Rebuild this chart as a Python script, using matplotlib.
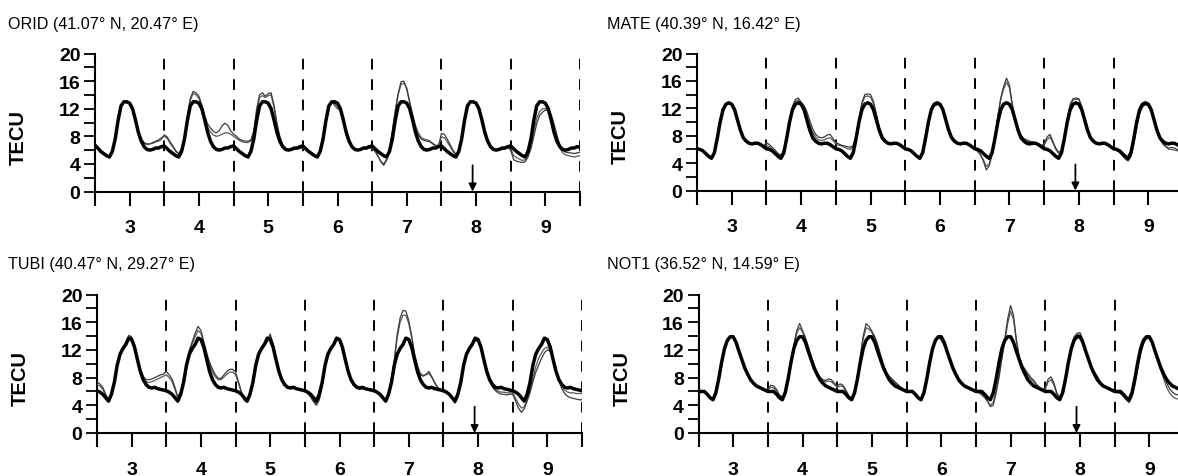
import numpy as np
import matplotlib
matplotlib.use("Agg")
import matplotlib.pyplot as plt
from matplotlib.ticker import MultipleLocator, FixedLocator

# ---------------- data (TECU, hourly from day 2.5 to 9.5) ----------------
hours_step = 1.0
n_pts = 169
days_x = [3, 4, 5, 6, 7, 8, 9]
day_bounds = [3.5, 4.5, 5.5, 6.5, 7.5, 8.5, 9.5]
event_day = 7.95
y_ticks_major = [0, 4, 8, 12, 16, 20]

station_titles = ["ORID (41.07° N, 20.47° E)", "MATE (40.39° N, 16.42° E)",
                  "TUBI (40.47° N, 29.27° E)", "NOT1 (36.52° N, 14.59° E)"]

orid_ref = [
    6.7, 6.3, 5.8, 5.5, 5.2, 5.0, 5.8, 7.6, 10.3, 12.4, 13.0, 13.0, 12.8, 12.0, 10.4, 8.6, 7.3, 6.5, 6.1, 6.0, 6.1, 6.3, 6.3, 6.5,
    6.6, 6.2, 5.8, 5.5, 5.2, 5.0, 5.8, 7.6, 10.3, 12.4, 13.0, 13.0, 12.8, 12.0, 10.4, 8.6, 7.3, 6.5, 6.1, 6.0, 6.1, 6.3, 6.3, 6.5,
    6.6, 6.2, 5.8, 5.5, 5.2, 5.0, 5.8, 7.6, 10.3, 12.4, 13.0, 13.0, 12.8, 12.0, 10.4, 8.6, 7.3, 6.5, 6.1, 6.0, 6.1, 6.3, 6.3, 6.5,
    6.6, 6.2, 5.8, 5.5, 5.2, 5.0, 5.8, 7.6, 10.3, 12.4, 13.0, 13.0, 12.8, 12.0, 10.4, 8.6, 7.3, 6.5, 6.1, 6.0, 6.1, 6.3, 6.3, 6.5,
    6.6, 6.2, 5.8, 5.5, 5.2, 5.0, 5.8, 7.6, 10.3, 12.4, 13.0, 13.0, 12.8, 12.0, 10.4, 8.6, 7.3, 6.5, 6.1, 6.0, 6.1, 6.3, 6.3, 6.5,
    6.6, 6.2, 5.8, 5.5, 5.2, 5.0, 5.8, 7.6, 10.3, 12.4, 13.0, 13.0, 12.8, 12.0, 10.4, 8.6, 7.3, 6.5, 6.1, 6.0, 6.1, 6.3, 6.3, 6.5,
    6.6, 6.2, 5.8, 5.5, 5.2, 5.0, 5.8, 7.6, 10.3, 12.4, 13.0, 13.0, 12.8, 12.0, 10.4, 8.6, 7.3, 6.5, 6.1, 6.0, 6.1, 6.3, 6.3, 6.5,
    6.4]
orid_obs1 = [
    6.7, 6.2, 5.8, 5.5, 5.2, 5.0, 5.8, 7.6, 10.3, 12.4, 13.0, 13.0, 12.8, 12.1, 10.6, 8.8, 7.7, 7.1, 6.9, 6.9, 7.0, 7.2, 7.3, 7.6,
    8.2, 7.9, 7.2, 6.6, 5.9, 5.5, 6.2, 8.0, 11.0, 13.5, 14.5, 14.3, 13.8, 12.6, 11.0, 9.8, 9.2, 8.7, 8.5, 8.8, 9.5, 9.9, 9.6, 8.8,
    8.3, 8.0, 7.6, 7.4, 7.3, 7.3, 7.5, 8.8, 12.0, 14.0, 14.3, 13.8, 14.2, 14.3, 12.5, 10.0, 8.0, 6.8, 6.3, 6.1, 6.1, 6.2, 6.3, 6.3,
    6.4, 6.2, 5.8, 5.5, 5.2, 5.0, 5.8, 7.6, 10.3, 12.4, 13.0, 12.5, 12.0, 11.8, 10.4, 8.6, 7.3, 6.5, 6.1, 6.0, 6.1, 6.2, 6.2, 6.3,
    6.3, 5.9, 5.2, 4.3, 3.8, 4.5, 6.0, 8.5, 11.5, 14.2, 15.9, 16.0, 14.8, 12.8, 10.8, 9.3, 8.2, 7.6, 7.4, 7.3, 7.2, 6.9, 6.6, 6.6,
    8.4, 8.3, 7.6, 6.8, 6.0, 5.4, 5.9, 7.6, 10.3, 12.4, 13.0, 13.0, 12.8, 12.0, 10.5, 8.8, 7.5, 6.6, 6.2, 6.1, 6.1, 6.2, 6.3, 6.4,
    6.0, 4.6, 4.4, 4.3, 4.2, 4.3, 5.0, 6.2, 8.0, 9.8, 11.0, 11.5, 11.8, 11.8, 11.2, 9.8, 8.2, 6.8, 6.0, 5.7, 5.6, 5.6, 5.5, 5.6,
    5.7]
orid_obs2 = [
    6.6, 6.2, 5.8, 5.5, 5.2, 5.0, 5.8, 7.5, 10.2, 12.3, 12.9, 12.9, 12.7, 11.9, 10.3, 8.6, 7.5, 7.0, 6.8, 6.9, 7.1, 7.3, 7.5, 7.8,
    8.0, 7.7, 7.0, 6.4, 5.8, 5.4, 6.0, 7.8, 10.8, 13.2, 14.2, 14.0, 13.5, 12.2, 10.6, 9.3, 8.6, 8.2, 8.0, 8.1, 8.3, 8.5, 8.5, 8.3,
    8.0, 7.7, 7.4, 7.2, 7.1, 7.1, 7.3, 8.5, 11.6, 13.6, 13.9, 13.6, 13.9, 14.0, 12.2, 9.8, 7.9, 6.7, 6.2, 6.0, 6.0, 6.1, 6.2, 6.2,
    6.3, 6.1, 5.7, 5.4, 5.1, 4.9, 5.7, 7.5, 10.2, 12.4, 13.0, 12.8, 12.4, 11.9, 10.4, 8.6, 7.3, 6.5, 6.1, 6.0, 6.1, 6.2, 6.3, 6.3,
    6.2, 5.8, 5.1, 4.4, 4.0, 4.7, 6.3, 8.8, 11.8, 14.0, 15.5, 15.7, 15.0, 13.1, 11.2, 9.6, 8.5, 7.8, 7.6, 7.5, 7.3, 7.0, 6.7, 6.7,
    7.9, 7.8, 7.2, 6.5, 5.8, 5.3, 5.8, 7.5, 10.2, 12.3, 12.9, 13.0, 12.9, 12.1, 10.7, 8.9, 7.6, 6.6, 6.1, 6.0, 6.0, 6.1, 6.2, 6.3,
    6.3, 5.2, 4.9, 4.7, 4.5, 4.6, 5.4, 6.8, 8.8, 10.6, 11.6, 12.0, 12.0, 11.6, 10.6, 9.0, 7.5, 6.3, 5.6, 5.3, 5.2, 5.1, 5.0, 5.1,
    5.2]

mate_ref = [
    6.1, 6.0, 5.8, 5.4, 5.0, 4.7, 5.5, 7.6, 10.0, 11.8, 12.6, 12.8, 12.6, 11.8, 10.3, 8.8, 7.7, 7.2, 6.9, 6.8, 6.9, 6.9, 6.7, 6.4,
    6.1, 6.0, 5.8, 5.4, 5.0, 4.7, 5.5, 7.6, 10.0, 11.8, 12.6, 12.8, 12.6, 11.8, 10.3, 8.8, 7.7, 7.2, 6.9, 6.8, 6.9, 6.9, 6.7, 6.4,
    6.1, 6.0, 5.8, 5.4, 5.0, 4.7, 5.5, 7.6, 10.0, 11.8, 12.6, 12.8, 12.6, 11.8, 10.3, 8.8, 7.7, 7.2, 6.9, 6.8, 6.9, 6.9, 6.7, 6.4,
    6.1, 6.0, 5.8, 5.4, 5.0, 4.7, 5.5, 7.6, 10.0, 11.8, 12.6, 12.8, 12.6, 11.8, 10.3, 8.8, 7.7, 7.2, 6.9, 6.8, 6.9, 6.9, 6.7, 6.4,
    6.1, 6.0, 5.8, 5.4, 5.0, 4.7, 5.5, 7.6, 10.0, 11.8, 12.6, 12.8, 12.6, 11.8, 10.3, 8.8, 7.7, 7.2, 6.9, 6.8, 6.9, 6.9, 6.7, 6.4,
    6.1, 6.0, 5.8, 5.4, 5.0, 4.7, 5.5, 7.6, 10.0, 11.8, 12.6, 12.8, 12.6, 11.8, 10.3, 8.8, 7.7, 7.2, 6.9, 6.8, 6.9, 6.9, 6.7, 6.4,
    6.1, 6.0, 5.8, 5.4, 5.0, 4.7, 5.5, 7.6, 10.0, 11.8, 12.6, 12.8, 12.6, 11.8, 10.3, 8.8, 7.7, 7.2, 6.9, 6.8, 6.9, 6.9, 6.7, 6.4,
    6.2]
mate_obs1 = [
    6.1, 6.0, 5.8, 5.4, 5.0, 4.8, 5.6, 7.6, 10.0, 11.8, 12.5, 12.7, 12.5, 11.8, 10.3, 8.8, 7.8, 7.2, 6.9, 6.8, 6.9, 6.9, 6.7, 6.5,
    7.0, 6.7, 6.3, 5.9, 5.4, 5.2, 5.8, 7.8, 10.3, 12.3, 13.3, 13.5, 12.9, 12.4, 11.5, 10.2, 9.0, 8.2, 7.8, 7.7, 7.8, 8.1, 8.2, 7.6,
    7.0, 6.8, 6.6, 6.5, 6.4, 6.3, 6.6, 8.0, 10.5, 12.8, 14.0, 14.1, 14.0, 13.0, 11.2, 9.3, 8.0, 7.3, 7.0, 6.9, 6.9, 6.9, 6.7, 6.4,
    6.1, 6.0, 5.8, 5.4, 5.0, 4.8, 5.6, 7.6, 10.0, 11.7, 12.3, 12.5, 12.5, 11.8, 10.3, 8.8, 7.7, 7.2, 6.9, 6.9, 7.0, 7.0, 6.7, 6.4,
    6.2, 5.8, 5.2, 4.3, 3.0, 3.6, 5.2, 7.8, 10.8, 13.5, 15.2, 16.4, 15.4, 12.6, 10.4, 8.8, 8.0, 7.5, 7.3, 7.1, 7.0, 6.9, 6.7, 6.5,
    6.8, 7.8, 8.2, 7.2, 6.2, 5.6, 5.8, 7.8, 10.5, 12.6, 13.4, 13.5, 13.4, 12.3, 10.6, 9.0, 7.9, 7.3, 7.0, 6.9, 6.9, 6.9, 6.7, 6.4,
    6.2, 6.0, 5.7, 5.2, 4.6, 4.3, 4.9, 6.8, 9.2, 11.2, 12.2, 12.5, 12.4, 11.8, 10.4, 8.8, 7.5, 6.8, 6.4, 6.2, 6.3, 6.2, 6.0, 5.9,
    5.9]
mate_obs2 = [
    6.0, 5.9, 5.7, 5.3, 5.0, 4.7, 5.5, 7.5, 9.9, 11.7, 12.6, 12.8, 12.6, 11.9, 10.4, 8.9, 7.7, 7.1, 6.8, 6.8, 6.9, 6.9, 6.7, 6.4,
    6.6, 6.4, 6.0, 5.6, 5.2, 5.0, 5.7, 7.7, 10.2, 12.1, 13.0, 13.2, 12.8, 12.0, 10.9, 9.6, 8.5, 7.8, 7.4, 7.3, 7.4, 7.6, 7.7, 7.3,
    6.8, 6.6, 6.5, 6.3, 6.1, 6.0, 6.4, 7.9, 10.3, 12.6, 13.7, 13.8, 13.6, 12.7, 11.0, 9.1, 7.9, 7.2, 6.9, 6.8, 6.8, 6.8, 6.6, 6.3,
    6.1, 6.0, 5.8, 5.4, 5.0, 4.7, 5.5, 7.6, 10.0, 11.8, 12.4, 12.6, 12.6, 11.8, 10.3, 8.8, 7.7, 7.2, 6.9, 6.8, 6.9, 6.9, 6.7, 6.4,
    6.0, 5.7, 5.2, 4.5, 3.5, 3.9, 5.4, 8.0, 10.9, 13.3, 14.8, 15.8, 15.0, 12.4, 10.4, 8.9, 8.1, 7.6, 7.4, 7.2, 7.1, 7.0, 6.8, 6.6,
    6.6, 7.4, 7.8, 7.0, 6.0, 5.4, 5.7, 7.7, 10.3, 12.4, 13.2, 13.3, 13.3, 12.2, 10.5, 8.9, 7.8, 7.2, 6.9, 6.8, 6.8, 6.8, 6.6, 6.3,
    6.1, 5.9, 5.6, 5.1, 4.7, 4.5, 5.1, 7.0, 9.4, 11.4, 12.3, 12.6, 12.5, 11.9, 10.5, 8.9, 7.6, 6.9, 6.5, 6.0, 6.0, 5.9, 5.8, 5.7,
    5.7]

tubi_ref = [
    6.1, 5.9, 5.6, 5.1, 4.6, 5.6, 7.3, 9.8, 11.4, 12.2, 12.8, 13.7, 13.5, 12.4, 10.6, 8.9, 7.7, 7.0, 6.6, 6.5, 6.6, 6.4, 6.3, 6.2,
    6.1, 5.9, 5.6, 5.1, 4.6, 5.6, 7.3, 9.8, 11.4, 12.2, 12.8, 13.7, 13.5, 12.4, 10.6, 8.9, 7.7, 7.0, 6.6, 6.5, 6.6, 6.4, 6.3, 6.2,
    6.1, 5.9, 5.6, 5.1, 4.6, 5.6, 7.3, 9.8, 11.4, 12.2, 12.8, 13.7, 13.5, 12.4, 10.6, 8.9, 7.7, 7.0, 6.6, 6.5, 6.6, 6.4, 6.3, 6.2,
    6.1, 5.9, 5.6, 5.1, 4.6, 5.6, 7.3, 9.8, 11.4, 12.2, 12.8, 13.7, 13.5, 12.4, 10.6, 8.9, 7.7, 7.0, 6.6, 6.5, 6.6, 6.4, 6.3, 6.2,
    6.1, 5.9, 5.6, 5.1, 4.6, 5.6, 7.3, 9.8, 11.4, 12.2, 12.8, 13.7, 13.5, 12.4, 10.6, 8.9, 7.7, 7.0, 6.6, 6.5, 6.6, 6.4, 6.3, 6.2,
    6.1, 5.9, 5.6, 5.1, 4.6, 5.6, 7.3, 9.8, 11.4, 12.2, 12.8, 13.7, 13.5, 12.4, 10.6, 8.9, 7.7, 7.0, 6.6, 6.5, 6.6, 6.4, 6.3, 6.2,
    6.1, 5.9, 5.6, 5.1, 4.6, 5.6, 7.3, 9.8, 11.4, 12.2, 12.8, 13.7, 13.5, 12.4, 10.6, 8.9, 7.7, 7.0, 6.6, 6.5, 6.6, 6.4, 6.3, 6.2,
    6.1]
tubi_obs1 = [
    7.3, 7.1, 6.6, 5.6, 4.8, 5.7, 7.4, 9.9, 11.6, 12.4, 13.1, 14.1, 13.9, 12.8, 11.0, 9.3, 8.2, 7.7, 7.7, 7.8, 8.0, 8.2, 8.4, 8.5,
    8.9, 8.4, 7.8, 6.6, 5.2, 6.0, 7.8, 10.2, 12.0, 13.2, 14.4, 15.4, 14.8, 13.2, 11.6, 10.2, 9.2, 8.4, 7.9, 7.9, 8.4, 8.9, 9.2, 9.2,
    8.8, 7.4, 6.0, 4.8, 4.5, 5.5, 7.2, 9.8, 11.3, 12.1, 12.7, 13.4, 14.3, 12.9, 10.8, 8.9, 7.7, 7.0, 6.6, 6.5, 6.6, 6.4, 6.3, 6.2,
    6.1, 5.7, 5.2, 4.5, 4.0, 4.8, 6.8, 9.4, 11.1, 12.0, 12.6, 13.4, 13.4, 12.4, 10.6, 8.9, 7.6, 6.9, 6.5, 6.3, 6.4, 6.3, 6.2, 6.1,
    6.3, 6.0, 5.6, 5.1, 4.7, 5.8, 7.8, 10.6, 14.3, 16.6, 17.7, 17.6, 16.2, 14.0, 11.4, 9.6, 8.4, 8.2, 8.5, 8.9, 8.1, 7.2, 6.5, 6.3,
    6.3, 6.0, 5.6, 5.0, 4.3, 5.2, 7.0, 9.6, 11.5, 12.5, 12.9, 13.3, 13.3, 12.3, 10.5, 8.7, 7.4, 6.6, 6.1, 5.8, 5.6, 5.6, 5.5, 5.6,
    5.6, 4.6, 3.6, 3.0, 3.5, 4.6, 5.8, 7.4, 8.8, 9.8, 10.8, 11.6, 12.0, 11.8, 10.6, 9.0, 7.6, 6.4, 5.7, 5.3, 5.1, 5.0, 4.9, 4.8,
    4.8]
tubi_obs2 = [
    7.0, 6.8, 6.3, 5.4, 4.7, 5.6, 7.3, 9.8, 11.5, 12.3, 13.0, 13.9, 13.7, 12.6, 10.8, 9.0, 7.9, 7.4, 7.3, 7.4, 7.6, 7.8, 8.0, 8.2,
    8.4, 8.0, 7.4, 6.3, 5.0, 5.9, 7.6, 10.0, 11.8, 12.9, 13.9, 14.8, 14.4, 12.9, 11.2, 9.8, 8.8, 8.1, 7.7, 7.7, 8.1, 8.5, 8.8, 8.8,
    8.4, 7.2, 5.8, 4.7, 4.5, 5.5, 7.2, 9.7, 11.2, 12.0, 12.6, 13.2, 14.0, 12.8, 10.7, 8.9, 7.7, 7.0, 6.6, 6.5, 6.6, 6.4, 6.3, 6.2,
    6.1, 5.8, 5.3, 4.7, 4.2, 5.0, 7.0, 9.6, 11.3, 12.1, 12.7, 13.5, 13.4, 12.4, 10.6, 8.9, 7.7, 7.0, 6.6, 6.4, 6.5, 6.4, 6.3, 6.2,
    6.2, 5.9, 5.5, 5.0, 4.7, 5.8, 7.7, 10.4, 13.8, 16.0, 17.0, 17.0, 15.8, 13.8, 11.4, 9.7, 8.6, 8.3, 8.4, 8.6, 8.0, 7.3, 6.6, 6.3,
    6.2, 6.0, 5.6, 5.0, 4.4, 5.3, 7.1, 9.7, 11.5, 12.4, 12.8, 13.4, 13.3, 12.3, 10.5, 8.8, 7.5, 6.8, 6.3, 6.0, 5.9, 5.9, 5.8, 5.8,
    5.8, 5.0, 4.2, 3.6, 3.8, 4.8, 6.2, 8.0, 9.6, 10.8, 11.6, 12.2, 12.4, 11.9, 10.6, 9.0, 7.7, 6.8, 6.2, 5.9, 5.8, 5.8, 5.7, 5.7,
    5.7]

not1_ref = [
    6.0, 6.0, 6.0, 5.6, 5.1, 4.8, 5.8, 7.8, 10.2, 12.2, 13.4, 13.9, 13.9, 13.1, 11.8, 10.6, 9.4, 8.5, 7.7, 7.2, 6.8, 6.6, 6.4, 6.2,
    6.0, 6.0, 6.0, 5.6, 5.1, 4.8, 5.8, 7.8, 10.2, 12.2, 13.4, 13.9, 13.9, 13.1, 11.8, 10.6, 9.4, 8.5, 7.7, 7.2, 6.8, 6.6, 6.4, 6.2,
    6.0, 6.0, 6.0, 5.6, 5.1, 4.8, 5.8, 7.8, 10.2, 12.2, 13.4, 13.9, 13.9, 13.1, 11.8, 10.6, 9.4, 8.5, 7.7, 7.2, 6.8, 6.6, 6.4, 6.2,
    6.0, 6.0, 6.0, 5.6, 5.1, 4.8, 5.8, 7.8, 10.2, 12.2, 13.4, 13.9, 13.9, 13.1, 11.8, 10.6, 9.4, 8.5, 7.7, 7.2, 6.8, 6.6, 6.4, 6.2,
    6.0, 6.0, 6.0, 5.6, 5.1, 4.8, 5.8, 7.8, 10.2, 12.2, 13.4, 13.9, 13.9, 13.1, 11.8, 10.6, 9.4, 8.5, 7.7, 7.2, 6.8, 6.6, 6.4, 6.2,
    6.0, 6.0, 6.0, 5.6, 5.1, 4.8, 5.8, 7.8, 10.2, 12.2, 13.4, 13.9, 13.9, 13.1, 11.8, 10.6, 9.4, 8.5, 7.7, 7.2, 6.8, 6.6, 6.4, 6.2,
    6.0, 6.0, 6.0, 5.6, 5.1, 4.8, 5.8, 7.8, 10.2, 12.2, 13.4, 13.9, 13.9, 13.1, 11.8, 10.6, 9.4, 8.5, 7.7, 7.2, 6.8, 6.6, 6.4, 6.2,
    6.0]
not1_obs1 = [
    6.0, 6.0, 5.9, 5.6, 5.1, 4.8, 5.8, 7.7, 10.1, 12.1, 13.3, 13.8, 13.8, 13.0, 11.8, 10.6, 9.5, 8.6, 7.8, 7.3, 6.9, 6.6, 6.4, 6.2,
    6.3, 6.9, 6.8, 6.3, 5.5, 5.2, 6.0, 8.0, 10.5, 12.8, 14.8, 15.8, 14.8, 13.8, 12.5, 11.0, 9.8, 8.8, 8.1, 7.7, 7.6, 7.8, 7.7, 7.2,
    6.8, 7.1, 6.9, 6.2, 5.4, 5.0, 6.0, 8.2, 11.2, 14.0, 15.8, 15.4, 14.7, 13.9, 12.8, 11.3, 9.8, 8.8, 8.2, 7.8, 7.4, 7.0, 6.6, 6.3,
    6.0, 6.0, 6.0, 5.6, 5.1, 4.8, 5.8, 7.8, 10.2, 12.2, 13.4, 13.9, 13.4, 12.6, 12.0, 10.6, 9.4, 8.5, 7.7, 7.2, 6.8, 6.6, 6.4, 6.2,
    6.0, 5.9, 5.6, 5.2, 4.6, 3.8, 4.0, 5.8, 8.0, 10.8, 13.5, 16.5, 18.4, 17.0, 13.5, 11.0, 9.8, 9.2, 8.6, 8.0, 7.6, 7.0, 6.6, 6.3,
    6.5, 7.8, 8.1, 7.2, 5.8, 5.2, 5.9, 7.9, 10.4, 12.6, 13.9, 14.4, 14.5, 13.5, 12.0, 10.6, 9.4, 8.8, 8.2, 7.4, 6.9, 6.6, 6.4, 6.2,
    6.0, 5.9, 5.8, 5.4, 4.8, 4.4, 5.2, 7.0, 9.3, 11.4, 12.9, 13.6, 13.7, 13.2, 12.0, 10.6, 9.2, 8.2, 7.2, 6.4, 5.9, 5.6, 5.5, 5.4,
    5.3]
not1_obs2 = [
    6.0, 5.9, 5.9, 5.5, 5.0, 4.8, 5.7, 7.6, 10.0, 12.0, 13.2, 13.8, 13.9, 13.1, 11.9, 10.7, 9.5, 8.6, 7.8, 7.3, 6.9, 6.6, 6.4, 6.1,
    6.2, 6.6, 6.5, 6.1, 5.4, 5.1, 5.9, 7.9, 10.3, 12.5, 14.4, 15.2, 14.6, 13.6, 12.3, 10.9, 9.7, 8.7, 8.0, 7.5, 7.4, 7.5, 7.4, 7.0,
    6.6, 6.8, 6.7, 6.0, 5.3, 4.9, 5.9, 8.0, 10.9, 13.6, 15.2, 15.0, 14.5, 13.8, 12.5, 11.1, 9.7, 8.7, 8.0, 7.6, 7.2, 6.9, 6.5, 6.2,
    6.0, 6.0, 6.0, 5.6, 5.1, 4.8, 5.8, 7.8, 10.2, 12.2, 13.4, 13.9, 13.6, 12.8, 12.1, 10.7, 9.4, 8.5, 7.7, 7.2, 6.8, 6.6, 6.4, 6.2,
    5.9, 5.8, 5.5, 5.1, 4.6, 4.0, 4.4, 6.2, 8.4, 10.9, 13.2, 15.8, 17.6, 16.4, 13.2, 10.9, 9.6, 9.0, 8.4, 7.8, 7.4, 6.9, 6.5, 6.2,
    6.3, 7.4, 7.7, 6.9, 5.6, 5.1, 5.8, 7.8, 10.2, 12.4, 13.7, 14.2, 14.3, 13.4, 11.9, 10.5, 9.3, 8.6, 8.0, 7.3, 6.9, 6.6, 6.4, 6.2,
    5.9, 5.8, 5.7, 5.3, 4.8, 4.5, 5.4, 7.3, 9.6, 11.7, 13.1, 13.7, 13.8, 13.3, 12.0, 10.5, 9.0, 7.8, 6.6, 5.8, 5.3, 5.0, 4.9, 4.9,
    4.8]

# ---------------- figure ----------------
ARIAL = ["Liberation Sans", "DejaVu Sans"]

fig = plt.figure(figsize=(11.78, 4.77), dpi=100)
W, H = 1178.0, 477.0

# axes rectangles in pixel coords: (x of day 2.5, x of day 9.5, y of 20, y of 0)
rects = [(95, 580, 54.5, 192.5), (697, 1183, 54.5, 191.5),
         (97, 582, 295.5, 434), (698.5, 1184, 295.5, 434)]
title_pos = [(8, 25), (607, 25), (8, 265), (607, 265)]

x = 2.5 + np.arange(n_pts) * hours_step / 24.0
series = [(orid_ref, orid_obs1, orid_obs2), (mate_ref, mate_obs1, mate_obs2),
          (tubi_ref, tubi_obs1, tubi_obs2), (not1_ref, not1_obs1, not1_obs2)]

for i in range(4):
    x0, x1, ytop, ybot = rects[i]
    ax = fig.add_axes([x0 / W, 1 - ybot / H, (x1 - x0) / W, (ybot - ytop) / H])
    ref, o1, o2 = series[i]
    ax.plot(x, o2, color="#5a5a5a", lw=0.9, zorder=3)
    ax.plot(x, o1, color="#3c3c3c", lw=0.9, zorder=3)
    ax.plot(x, ref, color="black", lw=2.5, zorder=4, solid_joinstyle="round")
    for b in day_bounds:
        ax.plot([b, b], [0, 20], color="black", lw=1.4, ls=(0, (5.5, 5.0)), zorder=2)
    ax.annotate("", xy=(event_day, 0.0), xytext=(event_day, 3.8),
                arrowprops=dict(arrowstyle="-|>", color="black", lw=1.3,
                                mutation_scale=11, shrinkA=0, shrinkB=0), zorder=5)
    ax.set_xlim(2.5, 9.5)
    ax.set_ylim(0, 20)
    for s in ["top", "right"]:
        ax.spines[s].set_visible(False)
    ax.spines["left"].set_linewidth(1.5)
    ax.spines["bottom"].set_linewidth(1.5)
    ax.xaxis.set_major_locator(FixedLocator(days_x))
    ax.xaxis.set_minor_locator(FixedLocator([2.5] + day_bounds))
    ax.yaxis.set_major_locator(FixedLocator(y_ticks_major))
    ax.yaxis.set_minor_locator(MultipleLocator(2))
    ax.tick_params(axis="x", which="both", direction="out", length=10, width=1.5, pad=10)
    ax.tick_params(axis="y", which="both", direction="out", length=8, width=1.3, pad=2.5)
    ax.set_xticklabels([str(d) for d in days_x])
    ax.set_yticklabels([str(v) for v in y_ticks_major])
    for lab in ax.get_xticklabels() + ax.get_yticklabels():
        lab.set_fontfamily(ARIAL)
        lab.set_fontweight("bold")
        lab.set_fontsize(14)
    ax.set_ylabel("TECU", fontfamily=ARIAL, fontweight="bold", fontsize=14.5)
    ax.yaxis.set_label_coords(-0.138, 0.40)
    fig.text(title_pos[i][0] / W, 1 - title_pos[i][1] / H, station_titles[i],
             fontfamily=ARIAL, fontsize=11.6, ha="left", va="center")

fig.savefig("out.png", dpi=100)
